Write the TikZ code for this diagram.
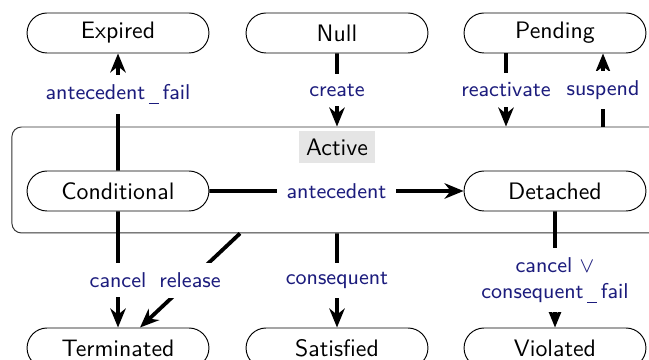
\documentclass[tikz,border=0pt]{standalone}
\usetikzlibrary{shapes.misc,arrows.meta}
\renewcommand{\familydefault}{\sfdefault}
\definecolor{lblblue}{RGB}{28,28,125}
\newcommand{\uscore}{\,\raisebox{-1.8pt}{\rule{4.2pt}{0.45pt}}\,}
\begin{document}
\begin{tikzpicture}[x=0.42pt, y=-0.42pt,
  state/.style={draw, rounded rectangle, minimum width=76.4pt, minimum height=16.8pt, inner sep=0pt},
  lbl/.style={fill=white, text=lblblue, font=\small, inner xsep=3pt, inner ysep=4pt},
  trans/.style={line width=1.6pt, -{Stealth[length=8pt,width=6.5pt]}}]
\useasboundingbox (0,0) rectangle (649,360);

\node[draw=black!80, rounded corners=4pt, minimum width=274.3pt, minimum height=44.5pt, inner sep=0pt] (active) at (338.5,180) {};
\node[fill=black!10, inner sep=3pt] (activelbl) at (337,147) {Active};

\node[state] (expired) at (118,33) {Expired};
\node[state] (null) at (337,33) {Null};
\node[state] (pending) at (555,33) {Pending};

\node[state] (cond) at (118,191) {Conditional};
\node[state] (detached) at (555,191) {Detached};

\node[state] (term) at (118,348) {Terminated};
\node[state] (sat) at (337,348) {Satisfied};
\node[state] (viol) at (555,348) {Violated};

\begin{scope}[trans]
\draw (cond) -- node[lbl, pos=0.65] {antecedent\uscore fail} (expired);
\draw (null) -- node[lbl] {create} (null |- active.north);
\draw (506,0 |- pending.south) -- node[lbl] {reactivate} (506,0 |- active.north);
\draw (603,0 |- active.north) -- node[lbl] {suspend} (603,0 |- pending.south);
\draw (cond) -- node[lbl, inner xsep=4pt] {antecedent} (detached);
\draw (cond) -- node[lbl, pos=0.59] {cancel} (term);
\draw (240,0 |- active.south) -- node[lbl] {release} (140,0 |- term.north);
\draw (sat |- active.south) -- node[lbl] {consequent} (sat);
\draw (detached) -- node[lbl, pos=0.59, align=center] {cancel $\vee$\\consequent\uscore fail} (viol);
\end{scope}
\end{tikzpicture}
\end{document}
